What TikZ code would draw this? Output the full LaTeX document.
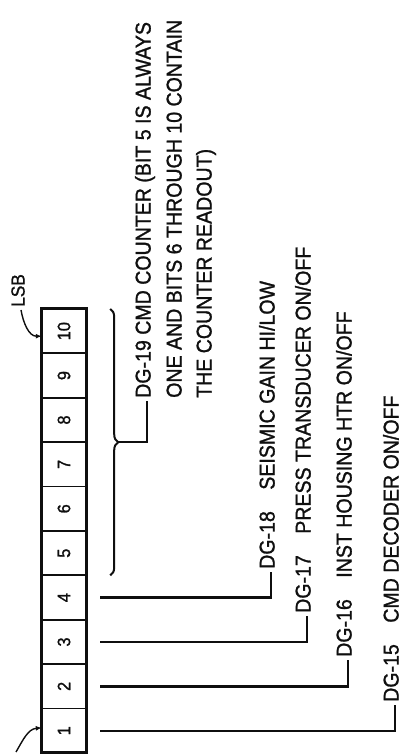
\documentclass[tikz,border=0pt]{standalone}
\usepackage{fontspec}
\setmainfont{Liberation Sans}[FakeStretch=0.91,RawFeature={embolden=1.2}]
\usetikzlibrary{calc,arrows.meta,decorations.pathreplacing}
\definecolor{ink}{RGB}{15,15,15}
\newcommand{\lblfont}{\fontsize{21.5}{25}\selectfont}
\newcommand{\bitfont}{\fontsize{18}{20}\selectfont}

\begin{document}
\begin{tikzpicture}[x=1pt,y=1pt,
  bit/.style={draw=ink,line width=1.8pt,minimum size=44.4pt,inner sep=0pt,outer sep=0pt,font=\bitfont,text=ink},
  lbl/.style={rotate=90,anchor=west,inner sep=3pt,text height=0.72em,text depth=0pt,font=\lblfont,text=ink},
  wire/.style={draw=ink,line width=2.4pt},
  tag/.style={draw=ink,line width=1.4pt,-{Latex[length=6pt,width=5pt]}}]
\useasboundingbox (0,0) rectangle (403,756);
\foreach \i in {1,...,10}
  \node[bit] (b\i) at (64,{3+44.4*(\i-0.5)}) {\rotatebox{90}{\i}};
\draw[ink,line width=3pt] (b1.south west) rectangle (b10.north east);
\node[lbl,font=\fontsize{19}{20}\selectfont] (lsb) at (21,446) {LSB};
\draw[tag] (lsb.west) to[out=-80,in=180] ([yshift=-5pt]b10.west);
\coordinate (msb) at (16,4);
\draw[tag] (msb) to[out=60,in=185] ([yshift=3pt]b1.west);
\node[lbl] (dg15) at (395,51) {DG-15\quad CMD DECODER ON/OFF};
\node[lbl] (dg16) at (348,96) {DG-16\quad INST HOUSING HTR ON/OFF};
\node[lbl] (dg17) at (307,140) {DG-17\quad PRESS TRANSDUCER ON/OFF};
\node[lbl] (dg18) at (271,184) {DG-18\quad SEISMIC GAIN HI/LOW};
\node[lbl] (dg19) at (147,355) {DG-19 CMD COUNTER (BIT 5 IS ALWAYS};
\node[lbl] (dg19b) at ([xshift=31pt]dg19.west) {ONE AND BITS 6 THROUGH 10 CONTAIN};
\node[lbl] (dg19c) at ([xshift=61pt]dg19.west) {THE COUNTER READOUT)};
\draw[wire] ([xshift=14pt]b1.east) -| (dg15.west);
\draw[wire] ([xshift=14pt]b2.east) -| (dg16.west);
\draw[wire] ([xshift=14pt]b3.east) -| (dg17.west);
\draw[wire] ([xshift=14pt]b4.east) -| (dg18.west);
\draw[ink,line width=2pt,decorate,decoration={brace,amplitude=8pt}]
  ([xshift=24pt]b10.north east) -- ([xshift=24pt]b5.south east);
\coordinate (tip) at ($(b10.north east)!.5!(b5.south east)+(32pt,0)$);
\draw[wire] (tip) -| (dg19.west);
\end{tikzpicture}
\end{document}
